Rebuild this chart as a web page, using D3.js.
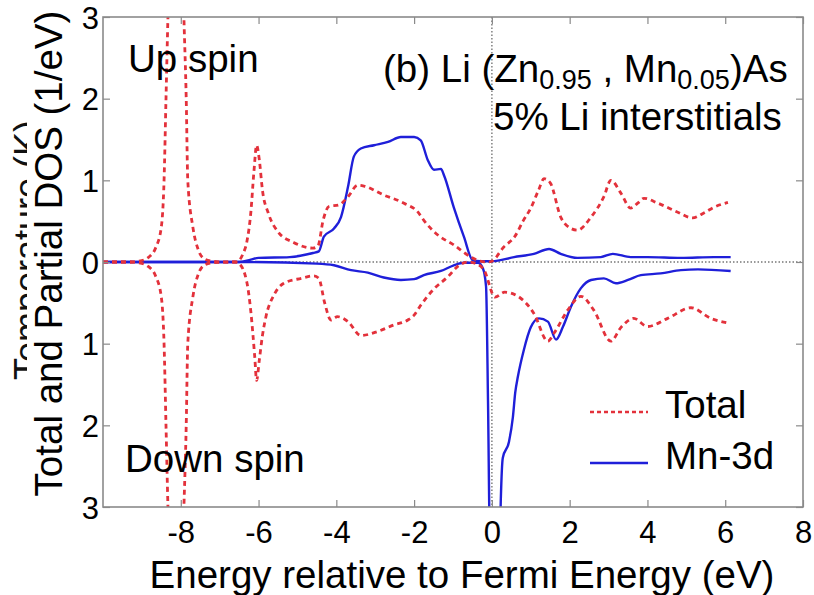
<!DOCTYPE html>
<html>
<head>
<meta charset="utf-8">
<script src="https://cdn.jsdelivr.net/npm/d3@7"></script>
<style>
  body { margin: 0; background: #fff; }
  svg { display: block; font-family: "Liberation Sans", Arial, Helvetica, sans-serif; }
</style>
</head>
<body>
<div id="chart"></div>
<script>
(function() {
  'use strict';

  // energy (eV) vs DOS (1/eV); down-spin values kept as magnitudes
  var totalUp = [[-10, 0], [-9.3, 0], [-9.07, 0.01], [-8.85, 0.05], [-8.64, 0.18], [-8.5, 0.43], [-8.43, 1.0],
    [-8.38, 2.0], [-8.33, 3.0], [-8.2, 4.5], [-8.1, 5.0], [-8.0, 4.5], [-7.92, 3.0], [-7.86, 2.0], [-7.82, 1.0],
    [-7.69, 0.43], [-7.55, 0.15], [-7.4, 0.04], [-7.2, 0.01], [-6.9, 0], [-6.6, 0], [-6.5, 0.02], [-6.4, 0.1],
    [-6.3, 0.25], [-6.2, 0.6], [-6.12, 1.1], [-6.05, 1.43], [-5.98, 1.25], [-5.9, 0.88], [-5.75, 0.6], [-5.5, 0.37],
    [-5.1, 0.24], [-4.6, 0.17], [-4.47, 0.2], [-4.34, 0.51], [-4.19, 0.68], [-3.93, 0.7], [-3.7, 0.8], [-3.45, 0.94],
    [-3.29, 0.93], [-2.78, 0.82], [-2.26, 0.72], [-1.9, 0.61], [-1.75, 0.51], [-1.39, 0.33], [-0.98, 0.21],
    [-0.54, 0.06], [-0.3, 0.01], [-0.1, 0], [0, 0.01], [0.3, 0.18], [0.6, 0.32], [0.8, 0.5], [1.0, 0.66],
    [1.2, 0.88], [1.34, 1.02], [1.5, 0.97], [1.77, 0.55], [2.0, 0.42], [2.2, 0.39], [2.55, 0.55], [2.88, 0.8],
    [3.06, 1.0], [3.32, 0.84], [3.57, 0.66], [3.75, 0.72], [3.91, 0.78], [4.27, 0.72], [4.78, 0.61], [5.16, 0.54],
    [5.45, 0.6], [5.71, 0.67], [6.07, 0.73]];

  var totalDown = [[-10, 0], [-9.3, 0], [-9.07, 0.01], [-8.85, 0.05], [-8.64, 0.18], [-8.5, 0.43], [-8.43, 1.0],
    [-8.38, 2.0], [-8.33, 3.0], [-8.1, 5.0], [-7.92, 3.0], [-7.86, 2.0], [-7.82, 1.0], [-7.69, 0.43], [-7.55, 0.15],
    [-7.4, 0.04], [-7.2, 0.01], [-6.6, 0], [-6.5, 0.02], [-6.3, 0.25], [-6.2, 0.6], [-6.1, 1.15], [-6.05, 1.45],
    [-5.98, 1.2], [-5.9, 0.9], [-5.81, 0.67], [-5.6, 0.4], [-5.35, 0.26], [-4.9, 0.2], [-4.58, 0.17], [-4.45, 0.2],
    [-4.3, 0.5], [-4.14, 0.71], [-3.97, 0.67], [-3.7, 0.73], [-3.37, 0.9], [-2.93, 0.85], [-2.52, 0.77],
    [-2.16, 0.71], [-2.0, 0.65], [-1.83, 0.53], [-1.49, 0.33], [-1.13, 0.18], [-0.87, 0.05], [-0.62, 0],
    [-0.4, 0.02], [-0.2, 0.1], [0.08, 0.43], [0.33, 0.37], [0.67, 0.42], [1.08, 0.63], [1.44, 0.97], [1.6, 0.87],
    [1.95, 0.59], [2.29, 0.42], [2.62, 0.59], [3.06, 0.97], [3.32, 0.8], [3.65, 0.69], [4.0, 0.79], [4.52, 0.69],
    [5.12, 0.56], [5.63, 0.69], [6.1, 0.75]];

  var mnUp = [[-10, 0], [-6.5, 0], [-6.2, 0.03], [-6.0, 0.05], [-5.2, 0.06], [-4.6, 0.11], [-4.45, 0.13],
    [-4.32, 0.31], [-4.06, 0.41], [-3.88, 0.55], [-3.7, 0.92], [-3.55, 1.29], [-3.37, 1.39], [-3.03, 1.43],
    [-2.67, 1.47], [-2.34, 1.53], [-2.0, 1.53], [-1.83, 1.49], [-1.65, 1.25], [-1.49, 1.13], [-1.31, 1.14],
    [-1.23, 1.06], [-0.98, 0.67], [-0.72, 0.31], [-0.49, 0.02], [-0.3, 0.01], [0, 0.01], [0.57, 0.06],
    [1.08, 0.1], [1.47, 0.16], [1.77, 0.1], [2.2, 0.05], [2.8, 0.06], [3.11, 0.1], [3.57, 0.06], [4.0, 0.06],
    [4.86, 0.05], [5.71, 0.06], [6.14, 0.06]];

  var mnDown = [[-10, 0], [-6.5, 0], [-4.5, 0.02], [-4.06, 0.04], [-3.62, 0.1], [-3.19, 0.13], [-2.78, 0.19],
    [-2.34, 0.22], [-2.0, 0.21], [-1.75, 0.16], [-1.31, 0.11], [-0.98, 0.04], [-0.72, 0.01], [-0.36, 0.01],
    [-0.23, 0.08], [-0.15, 0.3], [-0.1, 1.7], [-0.05, 3.5], [0.05, 4.0], [0.2, 3.5], [0.23, 2.9], [0.28, 2.4],
    [0.44, 2.2], [0.54, 1.9], [0.6, 1.6], [0.67, 1.4], [0.82, 1.08], [1.0, 0.8], [1.21, 0.69], [1.44, 0.73],
    [1.65, 0.95], [1.83, 0.79], [2.03, 0.55], [2.29, 0.32], [2.55, 0.22], [2.88, 0.2], [3.19, 0.26], [3.5, 0.22],
    [3.83, 0.16], [4.34, 0.14], [4.86, 0.1], [5.3, 0.09], [6.14, 0.11]];

  var xTicks = [-8, -6, -4, -2, 0, 2, 4, 6, 8];
  var yTicks = [-3, -2, -1, 0, 1, 2, 3];
  var legendLabels = ['Total', 'Mn-3d'];

  var red = '#e3313b', blue = '#1f1fd9', grey = '#8a8a8a';
  var big = '38.5px';
  var width = 814, height = 595;
  var x = d3.scaleLinear().domain([-10, 8]).range([103, 803]);
  var y = d3.scaleLinear().domain([-3, 3]).range([507, 17]);

  var svg = d3.select('#chart').append('svg').attr('width', width).attr('height', height);

  svg.append('clipPath').attr('id', 'plot-clip').append('rect')
    .attr('x', x(-10)).attr('y', y(3)).attr('width', x(8) - x(-10)).attr('height', y(-3) - y(3));

  // half hidden label left over under the real one
  svg.append('text').attr('transform', 'translate(40,250) rotate(-90)').attr('text-anchor', 'middle')
    .style('font-size', '36px').attr('fill', '#111').text('Temperature (K)');
  svg.append('rect').attr('x', 27).attr('y', 0).attr('width', 72).attr('height', height).attr('fill', '#fff');

  svg.append('text').attr('transform', 'translate(62,' + ((10 + 497) / 2) + ') rotate(-90)')
    .attr('text-anchor', 'middle').style('font-size', big).attr('fill', '#000')
    .text('Total and Partial DOS (1/eV)');

  svg.append('text').attr('x', 462).attr('y', 588).attr('text-anchor', 'middle')
    .style('font-size', big).attr('fill', '#000').text('Energy relative to Fermi Energy (eV)');

  // zero reference lines
  svg.append('line').attr('x1', x(-10)).attr('x2', x(8)).attr('y1', y(0)).attr('y2', y(0))
    .attr('stroke', '#777').attr('stroke-width', 1.4).attr('stroke-dasharray', '1.5,2');
  svg.append('line').attr('x1', x(0)).attr('x2', x(0)).attr('y1', y(3)).attr('y2', y(-3))
    .attr('stroke', '#777').attr('stroke-width', 1.4).attr('stroke-dasharray', '1.5,2');

  var line = function(sign) {
    return d3.line().x(function(d) {
      return x(d[0]);
    }).y(function(d) {
      return y(sign * d[1]);
    }).curve(d3.curveMonotoneX);
  };

  var plot = svg.append('g').attr('clip-path', 'url(#plot-clip)');
  var series = [
    { data: mnUp, sign: 1, color: blue, dash: null, w: 2.4 },
    { data: mnDown, sign: -1, color: blue, dash: null, w: 2.4 },
    { data: totalUp, sign: 1, color: red, dash: '5,4', w: 2.8 },
    { data: totalDown, sign: -1, color: red, dash: '5,4', w: 2.8 }
  ];
  plot.selectAll('path').data(series).enter().append('path')
    .attr('d', function(d) {
      return line(d.sign)(d.data);
    }).attr('fill', 'none').attr('stroke', function(d) {
      return d.color;
    }).attr('stroke-width', function(d) {
      return d.w;
    }).attr('stroke-dasharray', function(d) {
      return d.dash;
    });

  // axes with inward ticks on all four sides
  var bottom = svg.append('g').attr('transform', 'translate(0,' + y(-3) + ')')
    .call(d3.axisBottom(x).tickValues(xTicks).tickSizeInner(-7).tickSizeOuter(0).tickFormat(function(d) {
      return String(d);
    }));
  bottom.selectAll('text').attr('y', 36).attr('dy', null);
  svg.append('g').attr('transform', 'translate(0,' + y(3) + ')')
    .call(d3.axisTop(x).tickValues(xTicks).tickSizeInner(-7).tickSizeOuter(0).tickFormat(''));
  var left = svg.append('g').attr('transform', 'translate(' + x(-10) + ',0)')
    .call(d3.axisLeft(y).tickValues(yTicks).tickSizeInner(-7).tickSizeOuter(0).tickPadding(4).tickFormat(function(d) {
      return String(Math.abs(d));
    }));
  left.selectAll('text').attr('dy', '0.36em');
  svg.append('g').attr('transform', 'translate(' + x(8) + ',0)')
    .call(d3.axisRight(y).tickValues(yTicks).tickSizeInner(-7).tickSizeOuter(0).tickFormat(''));

  svg.selectAll('.domain').remove();
  svg.selectAll('.tick line').attr('stroke', grey).attr('stroke-width', 1.2);
  svg.selectAll('.tick text').style('font-size', '31px').style('font-family', '"Liberation Sans", Arial, sans-serif').attr('fill', '#000');

  svg.append('rect').attr('x', x(-10)).attr('y', y(3)).attr('width', x(8) - x(-10)).attr('height', y(-3) - y(3))
    .attr('fill', 'none').attr('stroke', grey).attr('stroke-width', 1.6);

  // annotations
  svg.append('text').attr('x', 128).attr('y', 72).style('font-size', big).text('Up spin');
  svg.append('text').attr('x', 125).attr('y', 472).style('font-size', big).text('Down spin');

  var title = svg.append('text').attr('x', 383).attr('y', 82).style('font-size', big);
  title.append('tspan').text('(b) Li (Zn');
  title.append('tspan').attr('dy', 7).style('font-size', '27px').text('0.95');
  title.append('tspan').attr('dy', -7).text(' , Mn');
  title.append('tspan').attr('dy', 7).style('font-size', '27px').text('0.05');
  title.append('tspan').attr('dy', -7).text(')As');
  svg.append('text').attr('x', 493).attr('y', 130).style('font-size', big).text('5% Li interstitials');

  // legend
  var legend = svg.append('g').selectAll('g').data(legendLabels).enter().append('g')
    .attr('transform', function(d, i) {
      return 'translate(590,' + (412 + i * 51) + ')';
    });
  legend.append('line').attr('x1', 0).attr('x2', 58).attr('y1', 0).attr('y2', 0)
    .attr('stroke', function(d, i) {
      return i === 0 ? red : blue;
    }).attr('stroke-width', function(d, i) {
      return i === 0 ? 2.6 : 2.4;
    }).attr('stroke-dasharray', function(d, i) {
      return i === 0 ? '4,3' : null;
    });
  legend.append('text').attr('x', 75).attr('y', 6).style('font-size', big).text(function(d) {
    return d;
  });
}).call(this);
</script>
</body>
</html>
